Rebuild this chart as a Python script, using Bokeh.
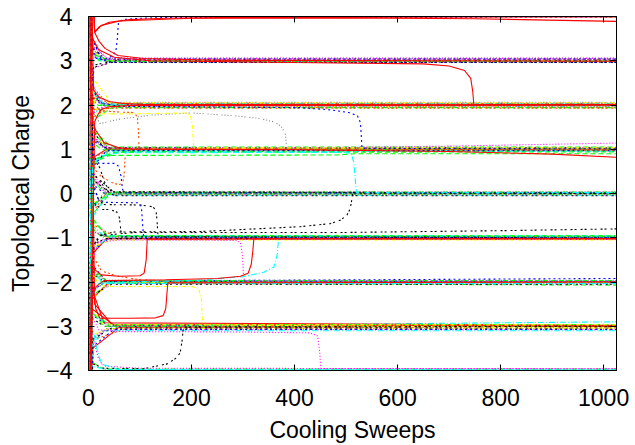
from bokeh.plotting import figure
from bokeh.models import Range1d, FixedTicker, LinearAxis
from bokeh.embed import file_html
from bokeh.resources import INLINE

# ---------------- data ----------------
X_LAST = 1024
x_ticks = [0, 200, 400, 600, 800, 1000]
y_ticks = [-4, -3, -2, -1, 0, 1, 2, 3, 4]

# gnuplot line types: 0 red, 1 green, 2 blue, 3 magenta, 4 cyan, 5 yellow, 6 black, 7 orange, 8 gray
style_colors = ["#ff0000", "#00ff00", "#0000ff", "#ff00ff", "#00ffff",
                "#ffff00", "#000000", "#ff4d00", "#808080"]
style_dashes = ["solid", "5 3", "2 3", "1 2", "6 2 1 2", "4 2 1 2",
                "2 2 2 4", "2 2 2 2 2 4", "1 2 1 2 1 2 1 4"]

# runs that settle on one plateau:
# (charge at sweep 0, knee sweep, knee charge, settle sweep, settle charge, final charge, line type)
flat_q3 = [
    (7, 6, 3.5, 30, 3.06, 3.06, 3), (-6, 8, 2.82, 60, 3.04, 3.05, 3),
    (7, 5, 3.6, 25, 3.02, 3.02, 6), (7, 8, 3.3, 35, 3.0, 3.01, 2),
    (6, 5, 3.4, 20, 3.03, 3.03, 8), (7, 4, 3.5, 20, 3.0, 3.0, 1),
    (7, 6, 3.2, 25, 2.99, 2.99, 4), (6, 7, 3.3, 30, 2.98, 2.98, 7),
    (7, 5, 3.25, 30, 3.01, 3.01, 5), (6, 9, 3.1, 40, 2.97, 2.97, 2),
    (-7, 10, 2.9, 50, 3.0, 3.0, 6), (7, 7, 3.45, 35, 3.05, 3.05, 8),
    (-6, 9, 2.85, 45, 2.96, 2.96, 6), (7, 5, 3.55, 25, 3.04, 3.04, 2),
    (7, 6, 3.35, 40, 3.02, 3.02, 3), (6, 8, 3.15, 45, 2.99, 2.99, 1),
]
flat_q2 = [
    (7, 6, 2.65, 45, 2.03, 2.03, 5), (7, 5, 2.5, 30, 2.05, 2.05, 3),
    (6, 6, 2.3, 30, 2.04, 2.04, 8), (-6, 6, 1.7, 40, 1.95, 1.94, 7),
    (-6, 8, 1.8, 35, 1.97, 1.97, 4), (7, 5, 2.4, 30, 1.99, 1.99, 2),
    (7, 4, 2.3, 25, 2.0, 2.0, 1), (7, 6, 2.2, 30, 2.02, 2.02, 6),
    (-6, 7, 1.75, 40, 1.97, 1.96, 5), (6, 8, 2.15, 30, 2.0, 2.0, 3),
    (-6, 10, 1.85, 30, 1.98, 1.98, 8), (7, 7, 2.25, 40, 2.03, 2.03, 7),
    (7, 5, 2.1, 20, 1.99, 1.99, 1), (7, 6, 2.45, 35, 2.06, 2.06, 8),
    (-6, 7, 1.65, 45, 1.94, 1.94, 1), (7, 8, 2.3, 40, 2.05, 2.05, 5),
    (-6, 6, 1.8, 30, 1.96, 1.96, 3), (7, 5, 2.35, 30, 2.02, 2.02, 4),
    (-6, 9, 1.9, 50, 1.93, 1.93, 7),
]
flat_q1 = [
    (7, 6, 1.4, 40, 1.02, 1.02, 1), (-6, 5, 0.6, 40, 0.97, 0.97, 1),
    (-6, 8, 0.7, 60, 0.95, 0.96, 1), (7, 5, 1.3, 35, 1.0, 1.0, 4),
    (7, 7, 1.2, 40, 0.99, 0.99, 2), (7, 6, 1.5, 30, 1.01, 1.01, 6),
    (6, 5, 1.25, 30, 1.02, 1.02, 8), (-6, 6, 0.8, 40, 0.98, 0.98, 7),
    (7, 8, 1.3, 40, 1.01, 1.01, 5), (-6, 7, 0.8, 35, 1.0, 1.0, 0),
    (7, 4, 1.2, 25, 0.99, 1.0, 1), (-6, 9, 0.75, 50, 0.93, 0.94, 1),
    (7, 5, 1.35, 30, 1.04, 1.04, 3), (-6, 6, 0.65, 45, 0.96, 0.96, 4),
    (7, 7, 1.25, 35, 1.03, 1.03, 6), (-6, 8, 0.72, 40, 0.99, 0.99, 8),
    (7, 6, 1.45, 45, 1.05, 1.05, 1), (-6, 5, 0.55, 35, 0.97, 0.97, 2),
]
flat_q0 = [
    (7, 6, 0.5, 40, 0.02, 0.02, 6), (-6, 5, -0.4, 30, -0.01, -0.01, 6),
    (7, 7, 0.3, 35, 0.01, 0.01, 8), (-6, 6, -0.5, 40, -0.02, -0.02, 1),
    (7, 5, 0.4, 30, 0.0, 0.0, 1), (-6, 8, -0.3, 40, 0.0, 0.0, 4),
    (7, 6, 0.35, 45, -0.03, -0.03, 3), (-6, 7, -0.45, 35, 0.02, 0.02, 7),
    (7, 4, 0.25, 30, 0.01, 0.01, 2), (-6, 9, -0.2, 40, -0.01, -0.01, 5),
    (-6, 6, -0.35, 30, 0.01, 0.01, 8), (7, 8, 0.45, 50, 0.02, 0.02, 6),
    (7, 5, 0.55, 30, 0.04, 0.04, 3), (-6, 7, -0.55, 35, -0.04, -0.04, 4),
    (7, 6, 0.4, 40, -0.02, -0.02, 8), (-6, 8, -0.25, 45, 0.03, 0.03, 1),
    (7, 9, 0.3, 50, -0.05, -0.05, 6),
]
flat_qm1 = [
    (7, 6, -0.6, 40, -0.98, -0.98, 1), (-6, 5, -1.4, 35, -1.02, -1.02, 0),
    (-6, 7, -1.3, 40, -1.01, -1.0, 2), (7, 8, -0.7, 50, -0.97, -0.97, 7),
    (7, 5, -0.65, 30, -0.99, -0.98, 5), (-6, 6, -1.2, 30, -1.03, -1.03, 3),
    (7, 6, -0.8, 30, -1.0, -1.0, 8), (-6, 8, -1.25, 40, -1.0, -1.0, 4),
    (7, 4, -0.75, 25, -0.97, -0.97, 1), (-6, 6, -1.15, 35, -1.02, -1.02, 6),
    (7, 7, -0.55, 35, -0.95, -0.95, 1), (-6, 6, -1.35, 30, -1.04, -1.04, 8),
    (7, 5, -0.7, 30, -0.96, -0.96, 4), (-6, 8, -1.2, 45, -1.05, -1.05, 5),
    (7, 6, -0.85, 40, -0.99, -0.99, 3),
]
flat_qm2 = [
    (-6, 6, -2.4, 40, -2.0, -2.0, 0), (7, 6, -1.6, 35, -1.98, -1.92, 2),
    (-6, 8, -2.3, 40, -2.03, -2.07, 1), (7, 5, -1.7, 30, -2.0, -2.0, 3),
    (-6, 7, -2.2, 35, -1.99, -1.99, 4), (7, 8, -1.75, 40, -2.01, -2.01, 7),
    (-6, 5, -2.25, 30, -2.02, -2.02, 8), (7, 6, -1.8, 30, -1.99, -1.99, 6),
    (-6, 9, -2.35, 45, -2.01, -2.01, 5), (7, 4, -1.65, 25, -2.0, -2.0, 1),
    (-6, 6, -2.2, 35, -1.98, -1.98, 2), (7, 5, -1.6, 30, -1.96, -1.96, 8),
    (-6, 6, -2.35, 40, -2.04, -2.04, 3), (7, 7, -1.7, 35, -1.97, -1.97, 1),
    (-6, 8, -2.3, 45, -2.05, -2.05, 6), (7, 6, -1.75, 30, -2.03, -2.03, 4),
]
flat_qm3 = [
    (-7, 8, -3.5, 60, -3.02, -3.0, 0), (7, 6, -2.6, 50, -2.98, -2.99, 0),
    (-7, 10, -3.3, 80, -3.03, -3.02, 7), (-7, 7, -3.2, 40, -3.05, -3.05, 5),
    (7, 6, -2.7, 40, -3.0, -2.9, 4), (-7, 6, -3.3, 35, -3.08, -3.08, 3),
    (7, 5, -2.8, 30, -3.0, -3.0, 6), (7, 7, -2.75, 40, -2.99, -2.99, 2),
    (-7, 8, -3.25, 40, -3.01, -3.01, 8), (7, 6, -2.65, 30, -3.0, -3.0, 1),
    (-7, 8, -3.4, 30, -3.1, -3.1, 4), (7, 8, -2.2, 30, -2.92, -2.98, 0),
    (7, 12, -2.5, 45, -2.95, -3.0, 0), (-7, 6, -3.35, 35, -3.06, -3.06, 8),
    (7, 7, -2.7, 40, -2.96, -2.96, 1), (-7, 8, -3.3, 45, -3.04, -3.04, 6),
    (7, 5, -2.6, 30, -2.97, -2.97, 5), (-7, 9, -3.45, 50, -3.07, -3.07, 2),
]
flat_qm4 = [
    (-7, 5, -3.8, 30, -3.97, -3.97, 1), (-7, 6, -3.9, 40, -3.99, -3.99, 4),
]

# runs with tunnelling events or long drifts: (sweep, charge) samples
red_up_to_4 = [(0, 7), (12, 3.65), (20, 3.76), (40, 3.87), (80, 3.93), (150, 3.96), (300, 3.98), (1024, 3.99)]
red_4_sag = [(0, 7), (12, 3.64), (25, 3.8), (60, 3.9), (200, 3.96), (500, 3.97), (750, 3.95), (1024, 3.89)]
red_down_to_3 = [(0, 7), (12, 3.64), (20, 3.45), (32, 3.28), (57, 3.12), (107, 3.05), (250, 3.01), (1024, 2.99)]
red_3_to_2 = [(0, 7), (8, 3.5), (20, 3.25), (50, 3.08), (120, 3.0), (400, 2.96), (650, 2.93), (700, 2.88),
              (730, 2.78), (742, 2.6), (746, 2.3), (748, 2.01), (1024, 2.01)]
blue_3_to_4 = [(0, 7), (5, 3.4), (15, 3.05), (30, 3.02), (45, 3.1), (53, 3.2), (56, 3.5), (58, 3.85),
               (66, 3.93), (100, 3.96), (160, 3.98), (1024, 3.99)]
red_down_to_2 = [(0, 7), (10, 2.34), (20, 2.18), (40, 2.08), (70, 2.03), (107, 2.01), (1024, 2.0)]
red_up_to_2 = [(0, -7), (12, 1.62), (18, 1.78), (25, 1.9), (40, 1.96), (80, 1.99), (1024, 2.0)]
red_1_sag = [(0, 7), (8, 1.6), (14, 1.43), (30, 1.15), (60, 1.03), (88, 1.0), (400, 0.99), (700, 0.95),
             (900, 0.89), (1024, 0.82)]
blue_2_to_1 = [(0, 7), (8, 2.4), (20, 2.05), (60, 1.97), (411, 1.94), (470, 1.89), (505, 1.83), (522, 1.76),
               (528, 1.6), (531, 1.02), (1024, 1.01)]
gray_2_to_1 = [(0, 7), (6, 2.4), (12, 1.75), (23, 1.58), (60, 1.68), (120, 1.77), (200, 1.82), (280, 1.76),
               (330, 1.7), (360, 1.62), (374, 1.52), (382, 1.35), (385, 1.02), (1024, 1.02)]
yellow_2_to_1 = [(0, 7), (6, 2.6), (12, 2.0), (20, 1.8), (80, 1.8), (190, 1.82), (198, 1.76), (202, 1.5),
                 (204, 1.03), (1024, 1.03)]
orange_2_to_1 = [(0, 7), (6, 2.5), (14, 2.0), (22, 1.87), (60, 1.84), (90, 1.83), (95, 1.7), (97, 1.4),
                 (98, 1.02), (1024, 0.99)]
orange_0_to_1 = [(0, -7), (8, 0.8), (13, 0.53), (25, 0.38), (45, 0.25), (58, 0.2), (66, 0.22), (69, 0.4),
                 (71, 0.8), (73, 1.0), (1024, 0.98)]
blue_1_to_0 = [(0, 7), (6, 1.2), (12, 0.8), (20, 0.68), (50, 0.68), (58, 0.62), (63, 0.4), (66, 0.1),
               (70, 0.01), (1024, 0.01)]
black_1_to_0 = [(0, 7), (8, 1.0), (15, 0.7), (22, 0.58), (27, 0.4), (33, 0.2), (45, 0.04), (1024, 0.01)]
green_low_1 = [(0, -7), (6, 0.5), (15, 0.78), (30, 0.86), (480, 0.87), (520, 0.9), (1024, 0.9)]
magenta_rise_1 = [(0, 7), (6, 1.3), (40, 1.02), (400, 1.03), (700, 1.07), (1024, 1.14)]
cyan_1_to_0 = [(0, -7), (8, 0.6), (20, 0.85), (60, 0.92), (490, 0.93), (510, 0.91), (515, 0.7), (518, 0.3),
               (520, 0.02), (1024, 0.02)]
black_m1_to_0 = [(0, -7), (10, -1.2), (20, -0.95), (50, -0.87), (217, -0.86), (411, -0.75), (470, -0.68),
                 (490, -0.6), (502, -0.48), (508, -0.35), (511, -0.15), (513, 0.01), (1024, 0.0)]
black_m1_drift = [(0, -7), (10, -1.15), (25, -0.95), (90, -0.88), (500, -0.88), (800, -0.84), (1024, -0.8)]
black_0_to_m1 = [(0, 7), (8, 0.3), (18, -0.1), (29, -0.25), (101, -0.26), (125, -0.3), (131, -0.38),
                 (133, -0.6), (135, -0.98), (1024, -0.99)]
black_loop_m1 = [(0, 7), (10, -0.2), (25, -0.36), (42, -0.36), (55, -0.42), (60, -0.55), (62, -0.75),
                 (64, -0.98), (1024, -1.0)]
blue_0_to_m1 = [(0, 7), (8, 0.2), (20, -0.15), (35, -0.2), (98, -0.21), (103, -0.35), (105, -0.7),
                (107, -1.0), (1024, -1.0)]
magenta_m1_to_m2 = [(0, -7), (8, -1.5), (20, -1.1), (60, -1.05), (285, -1.06), (295, -1.1), (299, -1.4),
                    (301, -1.9), (304, -1.98), (1024, -1.99)]
red_m2_to_m1_late = [(0, -7), (8, -2.3), (15, -2.1), (30, -1.97), (150, -1.95), (250, -1.92), (295, -1.87),
                     (310, -1.8), (316, -1.6), (319, -1.3), (321, -1.02), (1024, -1.02)]
red_m2_to_m1_early = [(0, -7), (6, -1.5), (12, -1.72), (25, -1.84), (60, -1.87), (100, -1.86), (108, -1.8),
                      (112, -1.5), (114, -1.03), (1024, -1.02)]
red_m3_to_m2 = [(0, 7), (8, -2.0), (14, -2.6), (22, -2.82), (80, -2.82), (130, -2.81), (145, -2.76),
                (150, -2.6), (152, -2.3), (154, -2.02), (1024, -2.0)]
orange_down_to_m2 = [(0, 7), (8, -1.3), (13, -1.5), (25, -1.75), (58, -1.87), (100, -1.95), (200, -2.0),
                     (1024, -2.0)]
cyan_m2_to_m1 = [(0, -7), (8, -2.3), (20, -2.03), (100, -1.99), (200, -1.97), (300, -1.88), (340, -1.78),
                 (360, -1.66), (366, -1.4), (369, -1.03), (1024, -1.01)]
yellow_m2_to_m3 = [(0, 7), (8, -1.8), (20, -2.06), (32, -2.1), (200, -2.1), (214, -2.15), (219, -2.4),
                   (221, -2.85), (223, -2.97), (1024, -3.04)]
black_m4_to_m3 = [(0, -7), (8, -3.85), (30, -3.95), (107, -3.96), (153, -3.85), (170, -3.72), (178, -3.6),
                  (182, -3.3), (184, -3.02), (1024, -3.0)]
magenta_m3_to_m4 = [(0, 7), (8, -2.8), (20, -3.08), (60, -3.12), (300, -3.13), (430, -3.15), (445, -3.22),
                    (449, -3.6), (451, -3.96), (1024, -3.96)]
magenta_bottom = [(0, 7), (5, -3.0), (10, -3.35), (20, -3.75), (30, -3.9), (100, -3.95), (1024, -3.96)]
cyan_bottom = [(0, 7), (5, -2.9), (10, -3.13), (16, -3.5), (25, -3.85), (60, -3.98), (1024, -3.99)]

# ---------------- figure ----------------
p = figure(width=635, height=445, output_backend="svg", toolbar_location=None,
           x_range=Range1d(0, 1025), y_range=Range1d(-4, 4),
           min_border_left=88, min_border_right=19, min_border_top=16, min_border_bottom=73,
           x_axis_label="Cooling Sweeps", y_axis_label="Topological Charge")
p.grid.visible = False
p.background_fill_color = "white"
p.border_fill_color = "white"
p.outline_line_color = "black"
p.outline_line_width = 1

FONT = "Liberation Sans"
for ax, ticks in ((p.xaxis[0], x_ticks), (p.yaxis[0], y_ticks)):
    ax.ticker = FixedTicker(ticks=ticks)
    ax.major_tick_in = 6
    ax.major_tick_out = 0
    ax.minor_tick_line_color = None
    ax.axis_line_color = "black"
    ax.major_tick_line_color = "black"
    ax.major_label_text_font = FONT
    ax.major_label_text_font_size = "23px"
    ax.major_label_text_color = "black"
    ax.axis_label_text_font = FONT
    ax.axis_label_text_font_size = "23px"
    ax.axis_label_text_font_style = "normal"
    ax.axis_label_text_color = "black"
p.xaxis[0].major_label_standoff = 18
p.xaxis[0].axis_label_standoff = 8
p.yaxis[0].major_label_standoff = 16
p.yaxis[0].axis_label_standoff = 9

# mirrored tick marks on top and right
for loc, ticks in (("above", x_ticks), ("right", y_ticks)):
    ax = LinearAxis(ticker=FixedTicker(ticks=ticks), major_tick_in=6, major_tick_out=0,
                    minor_tick_line_color=None, axis_line_color="black",
                    major_tick_line_color="black", major_label_text_font_size="1px",
                    major_label_text_color=None, major_label_standoff=0)
    p.add_layout(ax, loc)


def draw(xs, ys, st):
    p.line(xs, ys, line_color=style_colors[st], line_dash=style_dashes[st], line_width=1.1)


for group in (flat_q3, flat_q2, flat_q1, flat_q0, flat_qm1, flat_qm2, flat_qm3, flat_qm4):
    for (y0, kx, ky, sx, sy, ey, st) in group:
        draw([0, kx, sx, X_LAST], [y0, ky, sy, ey], st)

curves = [
    (green_low_1, 1), (magenta_rise_1, 3), (black_1_to_0, 6), (black_m1_drift, 6),
    (black_loop_m1, 6), (black_0_to_m1, 6), (blue_0_to_m1, 2), (blue_1_to_0, 2),
    (orange_0_to_1, 7), (orange_2_to_1, 7), (orange_down_to_m2, 7), (gray_2_to_1, 8),
    (yellow_2_to_1, 5), (blue_2_to_1, 2), (cyan_1_to_0, 4), (black_m1_to_0, 6),
    (magenta_m1_to_m2, 3), (cyan_m2_to_m1, 4), (yellow_m2_to_m3, 5), (black_m4_to_m3, 6),
    (magenta_m3_to_m4, 3), (magenta_bottom, 3), (cyan_bottom, 4), (blue_3_to_4, 2),
    (red_up_to_4, 0), (red_4_sag, 0), (red_down_to_3, 0), (red_3_to_2, 0),
    (red_down_to_2, 0), (red_up_to_2, 0), (red_1_sag, 0), (red_m2_to_m1_late, 0),
    (red_m2_to_m1_early, 0), (red_m3_to_m2, 0),
]
for pts, st in curves:
    draw([q[0] for q in pts], [q[1] for q in pts], st)

open("out.html", "w").write(file_html(p, INLINE))
